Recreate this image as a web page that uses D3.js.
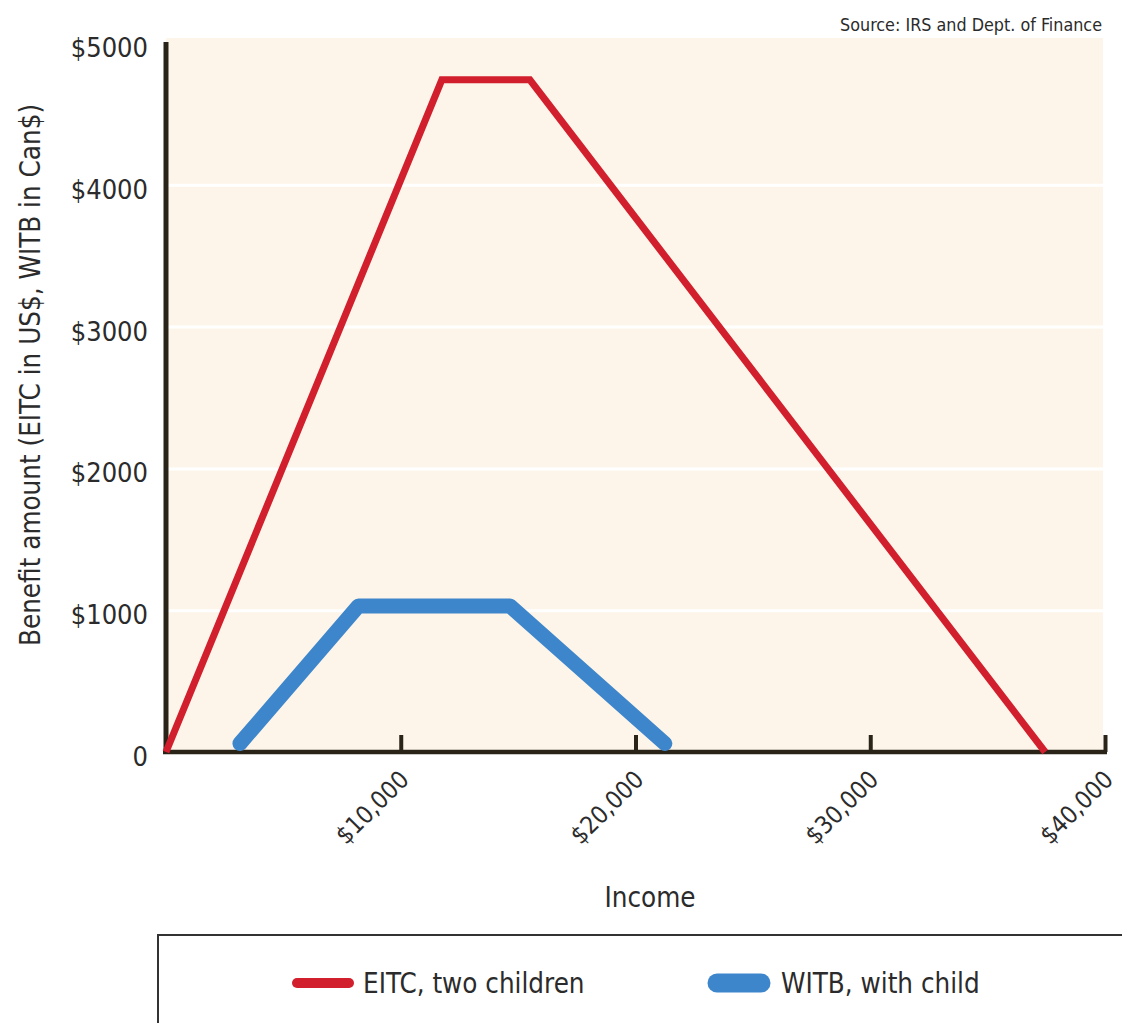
<!DOCTYPE html>
<html>
<head>
<meta charset="utf-8">
<script src="https://cdn.jsdelivr.net/npm/d3@7"></script>
<style>
  body { margin: 0; background: #fff; }
  svg text { font-family: "Liberation Sans Narrow", "DejaVu Sans Condensed", "Roboto", sans-serif; font-stretch: condensed; fill: #2b2b2b; }
</style>
</head>
<body>
<svg id="chart" width="1122" height="1023"></svg>
<script>
// data
var eitcIncome  = [0, 11750, 15500, 37450];
var eitcBenefit = [0, 4740, 4740, 0];
var witbIncome  = [3150, 8200, 14650, 21250];
var witbBenefit = [60, 1030, 1030, 60];
var yTicks = [0, 1000, 2000, 3000, 4000, 5000];
var xTicks = [10000, 20000, 30000, 40000];
var seriesNames = ["EITC, two children", "WITB, with child"];

var svg = d3.select("#chart");

var x = d3.scaleLinear().domain([0, 40000]).range([166, 1105]);
var y = d3.scaleLinear().domain([0, 5000]).range([752, 43]);

// plot background
svg.append("rect")
  .attr("x", x(0))
  .attr("y", y(5000) - 5)
  .attr("width", x(40000) - x(0) - 2)
  .attr("height", y(0) - y(5000) + 5)
  .attr("fill", "#fdf5e9");

// gridlines
svg.append("g")
  .attr("transform", "translate(" + x(0) + ",0)")
  .call(d3.axisLeft(y).tickValues(yTicks.slice(1, 5)).tickSize(-(x(40000) - x(0) - 2)).tickFormat(""))
  .call(function(g) {
    g.select(".domain").remove();
    g.selectAll("line").attr("stroke", "#ffffff").attr("stroke-width", 3);
  });

// y axis
svg.append("g")
  .attr("transform", "translate(" + x(0) + ",0)")
  .call(d3.axisLeft(y).tickValues(yTicks).tickSize(0).tickPadding(18)
    .tickFormat(function(d) { return d === 0 ? "0" : "$" + d; }))
  .call(function(g) {
    g.select(".domain").remove();
    g.selectAll("text").attr("font-size", 27).attr("dy", "0.5em").attr("fill", "#2b2b2b");
  });

svg.append("line")
  .attr("x1", x(0)).attr("x2", x(0))
  .attr("y1", y(5000) - 1).attr("y2", y(0) + 2)
  .attr("stroke", "#2a2418").attr("stroke-width", 5);

// x axis
svg.append("g")
  .attr("transform", "translate(0," + y(0) + ")")
  .call(d3.axisBottom(x).tickValues(xTicks).tickSizeInner(-17).tickSizeOuter(0)
    .tickFormat(function(d) { return "$" + d3.format(",")(d); }))
  .call(function(g) {
    g.select(".domain").attr("stroke", "#2a2418").attr("stroke-width", 4.5)
      .attr("d", "M" + (x(0) - 3) + ",0H" + (x(40000) + 2));
    g.selectAll("line").attr("stroke", "#2a2418").attr("stroke-width", 4);
    g.selectAll("text")
      .attr("font-size", 24.5)
      .attr("text-anchor", "end")
      .attr("fill", "#2b2b2b")
      .attr("transform", "translate(3,23) rotate(-45)")
      .attr("y", 0).attr("dy", "0.35em");
  });

// lines
var line = d3.line()
  .x(function(d) { return x(d[0]); })
  .y(function(d) { return y(d[1]); });

svg.append("path")
  .datum(d3.zip(witbIncome, witbBenefit))
  .attr("d", line)
  .attr("fill", "none")
  .attr("stroke", "#3e86cb")
  .attr("stroke-width", 15)
  .attr("stroke-linecap", "round")
  .attr("stroke-linejoin", "round");

svg.append("path")
  .datum(d3.zip(eitcIncome, eitcBenefit))
  .attr("d", line)
  .attr("fill", "none")
  .attr("stroke", "#d21f2e")
  .attr("stroke-width", 7)
  .attr("stroke-linejoin", "miter");

// titles
svg.append("text")
  .attr("transform", "translate(40,375) rotate(-90)")
  .attr("text-anchor", "middle")
  .attr("font-size", 27.5)
  .text("Benefit amount (EITC in US$, WITB in Can$)");

svg.append("text")
  .attr("x", 650).attr("y", 907)
  .attr("text-anchor", "middle")
  .attr("font-size", 27.5)
  .text("Income");

svg.append("text")
  .attr("x", 1102).attr("y", 31)
  .attr("text-anchor", "end")
  .attr("font-size", 17.8)
  .attr("fill", "#444")
  .text("Source: IRS and Dept. of Finance");

// legend
svg.append("rect")
  .attr("x", 158).attr("y", 935)
  .attr("width", 1000).attr("height", 200)
  .attr("fill", "#fff")
  .attr("stroke", "#333").attr("stroke-width", 2);

var legend = svg.append("g").selectAll("g")
  .data(seriesNames)
  .enter().append("g")
  .attr("transform", function(d, i) { return "translate(" + (i === 0 ? 297 : 717) + ",983)"; });

legend.append("line")
  .attr("x1", 0).attr("x2", function(d, i) { return i === 0 ? 52 : 44; })
  .attr("y1", 0).attr("y2", 0)
  .attr("stroke", function(d, i) { return i === 0 ? "#d21f2e" : "#3e86cb"; })
  .attr("stroke-width", function(d, i) { return i === 0 ? 10 : 19; })
  .attr("stroke-linecap", "round");

legend.append("text")
  .attr("x", function(d, i) { return i === 0 ? 66 : 64; })
  .attr("y", 0).attr("dy", "0.36em")
  .attr("font-size", 27.5)
  .text(function(d) { return d; });
</script>
</body>
</html>
